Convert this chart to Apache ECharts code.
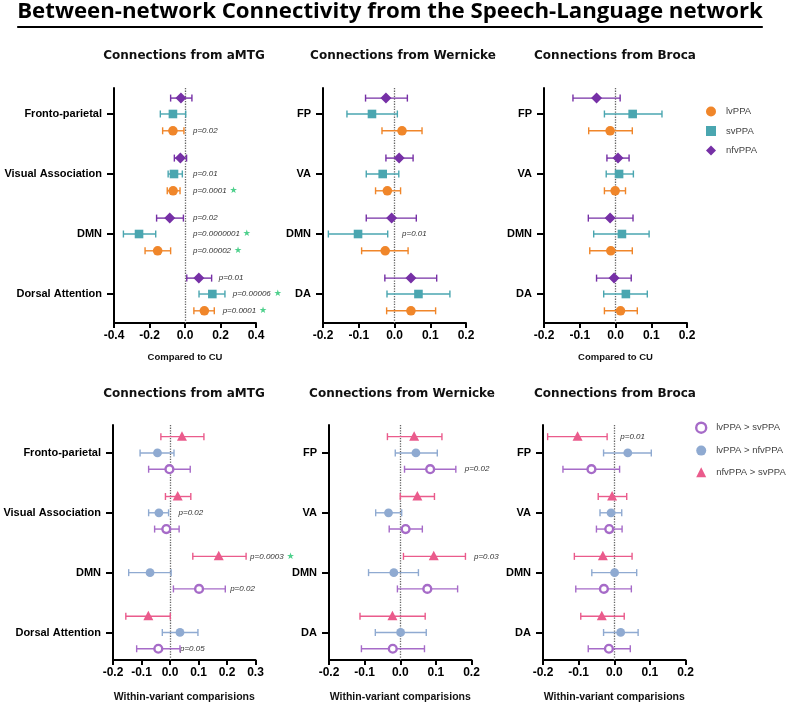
<!DOCTYPE html>
<html>
<head>
<meta charset="utf-8">
<script src="https://cdn.jsdelivr.net/npm/echarts@6.0.0/dist/echarts.min.js"></script>
<style>
  body { margin: 0; background: #fff; }
  #chart { width: 788px; height: 704px; }
</style>
</head>
<body>
<div id="chart"></div>
<script>
// network names on the y axes
const netLong = ['Fronto-parietal', 'Visual Association', 'DMN', 'Dorsal Attention'];
const netShort = ['FP', 'VA', 'DMN', 'DA'];

// top row, compared to CU: [mean, lower, upper] for FP, VA, DMN, DA
const aMTG_lvPPA = [[-0.068, -0.126, -0.006], [-0.067, -0.100, -0.028], [-0.154, -0.225, -0.081], [0.109, 0.050, 0.165]];
const aMTG_svPPA = [[-0.068, -0.139, 0.004], [-0.062, -0.095, -0.015], [-0.259, -0.347, -0.165], [0.154, 0.079, 0.225]];
const aMTG_nfvPPA = [[-0.023, -0.081, 0.039], [-0.026, -0.060, 0.009], [-0.086, -0.160, -0.009], [0.078, 0.010, 0.150]];

const wer_lvPPA = [[0.021, -0.035, 0.077], [-0.020, -0.053, 0.017], [-0.026, -0.092, 0.038], [0.046, -0.022, 0.115]];
const wer_svPPA = [[-0.063, -0.133, 0.008], [-0.033, -0.079, 0.012], [-0.102, -0.185, -0.019], [0.067, -0.021, 0.155]];
const wer_nfvPPA = [[-0.024, -0.081, 0.036], [0.013, -0.024, 0.052], [-0.008, -0.079, 0.061], [0.046, -0.027, 0.118]];

const bro_lvPPA = [[-0.015, -0.075, 0.047], [-0.001, -0.031, 0.028], [-0.013, -0.072, 0.047], [0.014, -0.031, 0.061]];
const bro_svPPA = [[0.048, -0.031, 0.130], [0.010, -0.026, 0.050], [0.018, -0.061, 0.094], [0.029, -0.033, 0.089]];
const bro_nfvPPA = [[-0.053, -0.119, 0.013], [0.007, -0.024, 0.038], [-0.015, -0.076, 0.049], [-0.004, -0.053, 0.044]];

// bottom row, within-variant comparisons
const aMTG_lvSv = [[-0.002, -0.075, 0.071], [-0.013, -0.054, 0.032], [0.102, 0.012, 0.194], [-0.041, -0.117, 0.035]];
const aMTG_lvNfv = [[-0.044, -0.105, 0.014], [-0.039, -0.075, -0.005], [-0.070, -0.145, 0.004], [0.035, -0.027, 0.098]];
const aMTG_nfvSv = [[0.042, -0.032, 0.119], [0.027, -0.016, 0.073], [0.171, 0.080, 0.267], [-0.076, -0.155, 0.001]];

const wer_lvSv = [[0.084, 0.012, 0.156], [0.015, -0.031, 0.062], [0.076, -0.008, 0.161], [-0.021, -0.109, 0.068]];
const wer_lvNfv = [[0.044, -0.014, 0.104], [-0.033, -0.069, 0.004], [-0.018, -0.089, 0.051], [0.001, -0.070, 0.073]];
const wer_nfvSv = [[0.039, -0.036, 0.117], [0.048, 0.000, 0.096], [0.094, 0.009, 0.183], [-0.022, -0.113, 0.070]];

const bro_lvSv = [[-0.064, -0.144, 0.015], [-0.014, -0.050, 0.022], [-0.029, -0.108, 0.048], [-0.015, -0.073, 0.045]];
const bro_lvNfv = [[0.038, -0.030, 0.104], [-0.009, -0.040, 0.021], [0.001, -0.063, 0.063], [0.018, -0.030, 0.067]];
const bro_nfvSv = [[-0.103, -0.187, -0.020], [-0.006, -0.045, 0.035], [-0.032, -0.112, 0.050], [-0.035, -0.094, 0.028]];

// p-value notes: [x value, network index, group, text, significant star]
const aMTG_pTop = [
  [0.045, 0, 'lvPPA', 'p=0.02', false],
  [0.045, 1, 'svPPA', 'p=0.01', false],
  [0.045, 1, 'lvPPA', 'p=0.0001', true],
  [0.045, 2, 'nfvPPA', 'p=0.02', false],
  [0.045, 2, 'svPPA', 'p=0.0000001', true],
  [0.045, 2, 'lvPPA', 'p=0.00002', true],
  [0.19, 3, 'nfvPPA', 'p=0.01', false],
  [0.269, 3, 'svPPA', 'p=0.00006', true],
  [0.212, 3, 'lvPPA', 'p=0.0001', true]
];
const wer_pTop = [[0.021, 2, 'svPPA', 'p=0.01', false]];
const aMTG_pBot = [
  [0.030, 1, 'lvPPA > nfvPPA', 'p=0.02', false],
  [0.281, 2, 'nfvPPA > svPPA', 'p=0.0003', true],
  [0.211, 2, 'lvPPA > svPPA', 'p=0.02', false],
  [0.035, 3, 'lvPPA > svPPA', 'p=0.05', false]
];
const wer_pBot = [
  [0.181, 0, 'lvPPA > svPPA', 'p=0.02', false],
  [0.207, 2, 'nfvPPA > svPPA', 'p=0.03', false]
];
const bro_pBot = [[0.017, 0, 'nfvPPA > svPPA', 'p=0.01', false]];

const FONT = 'Liberation Sans';
const groups = {
  'lvPPA': { color: '#F0862A', shape: 'circle', off: 0.28 },
  'svPPA': { color: '#4AA6B0', shape: 'square', off: 0 },
  'nfvPPA': { color: '#7630A6', shape: 'diamond', off: -0.265 },
  'lvPPA > svPPA': { color: '#A66BC8', shape: 'ring', off: 0.272 },
  'lvPPA > nfvPPA': { color: '#8FAAD1', shape: 'dot', off: 0 },
  'nfvPPA > svPPA': { color: '#EA5B8C', shape: 'triangle', off: -0.272 }
};

const topBox = { top: 88, height: 235 };
const botBox = { top: 425, height: 236 };
const panels = [
  { box: { left: 114, width: 142, ...topBox }, x: [-0.4, 0.4, 0.2], y: [-0.433, 3.483], labels: netLong,
    title: 'Connections from aMTG', tx: 184, ty: 56, xName: 'Compared to CU', gap: 29,
    series: [['nfvPPA', aMTG_nfvPPA], ['svPPA', aMTG_svPPA], ['lvPPA', aMTG_lvPPA]], notes: aMTG_pTop },
  { box: { left: 323, width: 143, ...topBox }, x: [-0.2, 0.2, 0.1], y: [-0.433, 3.483], labels: netShort,
    title: 'Connections from Wernicke', tx: 403, ty: 56, xName: '', gap: 29,
    series: [['nfvPPA', wer_nfvPPA], ['svPPA', wer_svPPA], ['lvPPA', wer_lvPPA]], notes: wer_pTop },
  { box: { left: 544, width: 143, ...topBox }, x: [-0.2, 0.2, 0.1], y: [-0.433, 3.483], labels: netShort,
    title: 'Connections from Broca', tx: 615, ty: 56, xName: 'Compared to CU', gap: 29,
    series: [['nfvPPA', bro_nfvPPA], ['svPPA', bro_svPPA], ['lvPPA', bro_lvPPA]], notes: [] },
  { box: { left: 113, width: 142.5, ...botBox }, x: [-0.2, 0.3, 0.1], y: [-0.467, 3.46], labels: netLong,
    title: 'Connections from aMTG', tx: 184, ty: 394, xName: 'Within-variant comparisions', gap: 32,
    series: [['nfvPPA > svPPA', aMTG_nfvSv], ['lvPPA > nfvPPA', aMTG_lvNfv], ['lvPPA > svPPA', aMTG_lvSv]], notes: aMTG_pBot },
  { box: { left: 329, width: 142.5, ...botBox }, x: [-0.2, 0.2, 0.1], y: [-0.467, 3.46], labels: netShort,
    title: 'Connections from Wernicke', tx: 402, ty: 394, xName: 'Within-variant comparisions', gap: 32,
    series: [['nfvPPA > svPPA', wer_nfvSv], ['lvPPA > nfvPPA', wer_lvNfv], ['lvPPA > svPPA', wer_lvSv]], notes: wer_pBot },
  { box: { left: 543, width: 142.5, ...botBox }, x: [-0.2, 0.2, 0.1], y: [-0.467, 3.46], labels: netShort,
    title: 'Connections from Broca', tx: 615, ty: 394, xName: 'Within-variant comparisions', gap: 32,
    series: [['nfvPPA > svPPA', bro_nfvSv], ['lvPPA > nfvPPA', bro_lvNfv], ['lvPPA > svPPA', bro_lvSv]], notes: bro_pBot }
];

function marker(g, cx, cy) {
  const fill = { fill: g.color };
  switch (g.shape) {
    case 'circle': return { type: 'circle', shape: { cx, cy, r: 4.8 }, style: fill };
    case 'dot': return { type: 'circle', shape: { cx, cy, r: 4.4 }, style: fill };
    case 'square': return { type: 'rect', shape: { x: cx - 4.3, y: cy - 4.3, width: 8.6, height: 8.6 }, style: fill };
    case 'diamond': return { type: 'polygon', shape: { points: [[cx, cy - 5.5], [cx + 5.5, cy], [cx, cy + 5.5], [cx - 5.5, cy]] }, style: fill };
    case 'triangle': return { type: 'polygon', shape: { points: [[cx, cy - 5.5], [cx + 5, cy + 4], [cx - 5, cy + 4]] }, style: fill };
    case 'ring': return { type: 'circle', shape: { cx, cy, r: 3.9 }, style: { fill: '#fff', stroke: g.color, lineWidth: 2.4 } };
  }
}

function errorBars(g) {
  return function (params, api) {
    const yv = api.value(3) + g.off;
    const c = api.coord([api.value(0), yv]);
    const a = api.coord([api.value(1), yv]);
    const b = api.coord([api.value(2), yv]);
    const ls = { stroke: g.color, lineWidth: 1.4 };
    return {
      type: 'group',
      children: [
        { type: 'line', shape: { x1: a[0], y1: c[1], x2: b[0], y2: c[1] }, style: ls },
        { type: 'line', shape: { x1: a[0], y1: c[1] - 3.5, x2: a[0], y2: c[1] + 3.5 }, style: ls },
        { type: 'line', shape: { x1: b[0], y1: c[1] - 3.5, x2: b[0], y2: c[1] + 3.5 }, style: ls },
        marker(g, c[0], c[1])
      ]
    };
  };
}

const grid = [], xAxis = [], yAxis = [], series = [], graphic = [];

panels.forEach(function (pn, i) {
  grid.push(pn.box);
  xAxis.push({
    gridIndex: i, type: 'value', min: pn.x[0], max: pn.x[1], interval: pn.x[2],
    name: pn.xName, nameLocation: 'middle', nameGap: pn.gap,
    nameTextStyle: { fontFamily: FONT, fontWeight: 'bold', fontSize: i < 3 ? 9.5 : 10.5, color: '#111' },
    axisLine: { onZero: false, lineStyle: { color: '#000', width: 2 } },
    axisTick: { length: 5, lineStyle: { color: '#000', width: 2 } },
    axisLabel: {
      margin: 7, color: '#000', fontFamily: FONT, fontWeight: 'bold', fontSize: 12,
      formatter: v => (Math.abs(v) < 1e-9 ? 0 : v).toFixed(1)
    },
    splitLine: { show: false }
  });
  yAxis.push({
    gridIndex: i, type: 'value', inverse: true, min: pn.y[0], max: pn.y[1],
    axisLine: { show: true, onZero: false, lineStyle: { color: '#000', width: 2 } },
    axisTick: { show: true, length: 7, customValues: [0, 1, 2, 3], lineStyle: { color: '#000', width: 2 } },
    axisLabel: {
      customValues: [0, 1, 2, 3], margin: 12, color: '#000', fontFamily: FONT, fontWeight: 'bold', fontSize: 11,
      formatter: v => pn.labels[Math.round(v)]
    },
    splitLine: { show: false }
  });

  pn.series.forEach(function (s, k) {
    const g = groups[s[0]];
    const item = {
      type: 'custom', name: s[0], xAxisIndex: i, yAxisIndex: i,
      itemStyle: { color: g.color },
      encode: { x: 0, y: 3 },
      data: s[1].map((d, idx) => [d[0], d[1], d[2], idx]),
      renderItem: errorBars(g),
      z: 3
    };
    if (k === 0) {
      item.markLine = {
        silent: true, symbol: 'none', label: { show: false }, z: 1,
        lineStyle: { type: 'dotted', color: '#666', width: 1.3 },
        data: [{ xAxis: 0 }]
      };
    }
    series.push(item);
  });

  if (pn.notes.length) {
    series.push({
      type: 'custom', xAxisIndex: i, yAxisIndex: i, silent: true,
      data: pn.notes.map(n => [n[0], n[1] + groups[n[2]].off]),
      renderItem: function (params, api) {
        const n = pn.notes[params.dataIndex];
        const pt = api.coord([api.value(0), api.value(1)]);
        return {
          type: 'text', x: pt[0], y: pt[1],
          style: {
            text: '{p|' + n[3] + '}' + (n[4] ? '{s| ★}' : ''),
            align: 'left', verticalAlign: 'middle',
            rich: {
              p: { fontFamily: FONT, fontStyle: 'italic', fontSize: 8, fill: '#333' },
              s: { fontFamily: 'DejaVu Sans', fontSize: 9, fill: '#4ED08C' }
            }
          }
        };
      }
    });
  }

  graphic.push({
    type: 'text', x: pn.tx, y: pn.ty,
    style: {
      text: pn.title, fill: '#111', font: 'bold 12px "DejaVu Sans"',
      align: 'center', verticalAlign: 'middle', textAlign: 'center', textVerticalAlign: 'middle'
    }
  });
});

// main title, fitted to the reference width and underlined
const mainTitle = 'Between-network Connectivity from the Speech-Language network';
const ctx = document.createElement('canvas').getContext('2d');
ctx.font = 'bold 20px "Open Sans"';
const fs = 20 * 746 / ctx.measureText(mainTitle).width;
ctx.font = 'bold ' + fs + 'px "Open Sans"';
const tw = ctx.measureText(mainTitle).width;
graphic.push({
  type: 'text', x: 390, y: 12,
  style: {
    text: mainTitle, fill: '#000', font: 'bold ' + fs + 'px "Open Sans"',
    align: 'center', verticalAlign: 'middle', textAlign: 'center', textVerticalAlign: 'middle'
  }
});
graphic.push({
  type: 'line', shape: { x1: 390 - tw / 2, y1: 27, x2: 390 + tw / 2, y2: 27 },
  style: { stroke: '#000', lineWidth: 2 }
});

const legendText = { fontFamily: FONT, fontSize: 9.5, color: '#444', padding: [0, 0, 0, 5] };

const option = {
  animation: false,
  backgroundColor: '#fff',
  grid: grid,
  xAxis: xAxis,
  yAxis: yAxis,
  legend: [
    {
      orient: 'vertical', left: 706, top: 106.5, padding: 0, itemWidth: 10, itemHeight: 10, itemGap: 9.5,
      textStyle: legendText,
      data: [{ name: 'lvPPA', icon: 'circle' }, { name: 'svPPA', icon: 'rect' }, { name: 'nfvPPA', icon: 'diamond' }]
    },
    {
      orient: 'vertical', left: 695, top: 421.5, padding: 0, itemWidth: 10, itemHeight: 10, itemGap: 11.7,
      textStyle: legendText,
      data: [
        { name: 'lvPPA > svPPA', icon: 'circle', itemStyle: { color: '#fff', borderColor: '#A66BC8', borderWidth: 2.4 } },
        { name: 'lvPPA > nfvPPA', icon: 'circle' },
        { name: 'nfvPPA > svPPA', icon: 'triangle' }
      ]
    }
  ],
  graphic: graphic,
  series: series
};

const myChart = echarts.init(document.getElementById('chart'));
myChart.setOption(option);
</script>
</body>
</html>
